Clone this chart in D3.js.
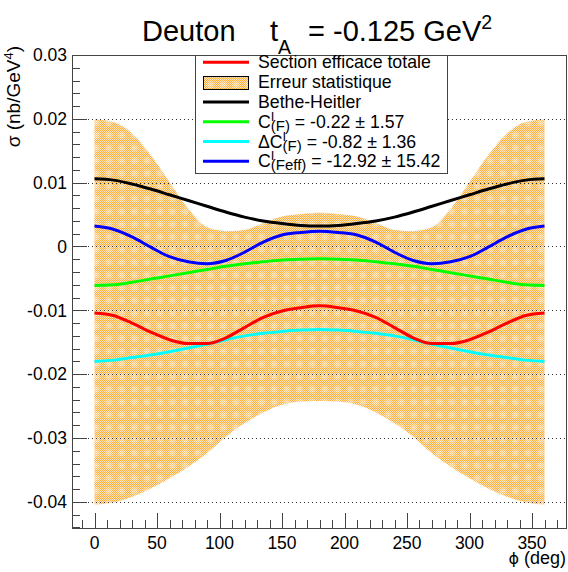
<!DOCTYPE html>
<html><head><meta charset="utf-8">
<script src="https://cdn.jsdelivr.net/npm/d3@7"></script>
<style>
body{margin:0;background:#fff}
svg{display:block;font-family:"Liberation Sans",Arial,sans-serif}
text{white-space:pre}
</style>
</head><body>
<svg id="c" width="568" height="572"></svg>
<script>
// ---- data ----
const phi = [0,15,30,45,60,75,90,105,120,135,150,165,180,195,210,225,240,255,270,285,300,315,330,345,360];
const bandHi = [0.0199,0.0195,0.0177,0.0143,0.0101,0.0059,0.0030,0.0024,0.0026,0.0037,0.0047,0.0051,0.0053,0.0051,0.0047,0.0037,0.0026,0.0024,0.0030,0.0059,0.0101,0.0143,0.0177,0.0195,0.0199];
const bandLo = [-0.0404,-0.0401,-0.0392,-0.0379,-0.0363,-0.0345,-0.0324,-0.0298,-0.0277,-0.0260,-0.0248,-0.0243,-0.0242,-0.0243,-0.0248,-0.0260,-0.0277,-0.0298,-0.0324,-0.0345,-0.0363,-0.0379,-0.0392,-0.0401,-0.0404];
const sigTot = [-0.0104,-0.0108,-0.0120,-0.0134,-0.0146,-0.0152,-0.0152,-0.0143,-0.0127,-0.0111,-0.0101,-0.0096,-0.0093,-0.0096,-0.0101,-0.0111,-0.0127,-0.0143,-0.0152,-0.0152,-0.0146,-0.0134,-0.0120,-0.0108,-0.0104];
const bh = [0.0106,0.0104,0.0098,0.0090,0.0081,0.0072,0.0063,0.0054,0.0046,0.0040,0.0036,0.0033,0.0032,0.0033,0.0036,0.0040,0.0046,0.0054,0.0063,0.0072,0.0081,0.0090,0.0098,0.0104,0.0106];
const cF = [-0.0061,-0.0060,-0.0056,-0.0051,-0.0046,-0.0041,-0.0036,-0.0031,-0.0027,-0.0024,-0.0021,-0.0020,-0.0019,-0.0020,-0.0021,-0.0024,-0.0027,-0.0031,-0.0036,-0.0041,-0.0046,-0.0051,-0.0056,-0.0060,-0.0061];
const dcF = [-0.0180,-0.0178,-0.0174,-0.0170,-0.0165,-0.0159,-0.0153,-0.0146,-0.0140,-0.0136,-0.0133,-0.0131,-0.0130,-0.0131,-0.0133,-0.0136,-0.0140,-0.0146,-0.0153,-0.0159,-0.0165,-0.0170,-0.0174,-0.0178,-0.0180];
const cFeff = [0.0032,0.0027,0.0015,-0.0001,-0.0016,-0.0024,-0.0027,-0.0022,-0.0009,0.0007,0.0018,0.0022,0.0024,0.0022,0.0018,0.0007,-0.0009,-0.0022,-0.0027,-0.0024,-0.0016,-0.0001,0.0015,0.0027,0.0032];
const xTicks = [0,50,100,150,200,250,300,350];
const yTicks = [-0.04,-0.03,-0.02,-0.01,0,0.01,0.02,0.03];
const yTickLabels = ["-0.04","-0.03","-0.02","-0.01","0","0.01","0.02","0.03"];

const F = {l:72, t:55, r:567, b:528};
const svg = d3.select("#c");
const x = d3.scaleLinear().domain([-18,378]).range([F.l,F.r]);
const y = d3.scaleLinear().domain([-0.0441,0.0300]).range([F.b,F.t]);

// ---- patterns (no nesting) ----
const defs = svg.append("defs");
const chk = defs.append("pattern").attr("id","chk").attr("width",2).attr("height",2).attr("patternUnits","userSpaceOnUse");
chk.append("rect").attr("width",2).attr("height",2).attr("fill","#ffe6c2");
chk.append("rect").attr("x",0).attr("y",0).attr("width",1).attr("height",1).attr("fill","#ffac36");
chk.append("rect").attr("x",1).attr("y",1).attr("width",1).attr("height",1).attr("fill","#ffac36");
const rg = defs.append("radialGradient").attr("id","rg");
rg.append("stop").attr("offset","0").attr("stop-color","#ffeed6").attr("stop-opacity",0.6);
rg.append("stop").attr("offset","0.6").attr("stop-color","#ffeed6").attr("stop-opacity",0.35);
rg.append("stop").attr("offset","1").attr("stop-color","#ffeed6").attr("stop-opacity",0);
const sp = defs.append("pattern").attr("id","spots").attr("width",12.7).attr("height",12.7).attr("patternUnits","userSpaceOnUse").attr("x",1).attr("y",2);
sp.append("circle").attr("cx",6.35).attr("cy",6.35).attr("r",4.6).attr("fill","url(#rg)");

// ---- band ----
const bandData = phi.map((p,i)=>({p, lo:bandLo[i], hi:bandHi[i]}));
const bandArea = d3.area().x(d=>x(d.p)).y0(d=>y(d.lo)).y1(d=>y(d.hi)).curve(d3.curveMonotoneX);
svg.append("path").datum(bandData).attr("d", bandArea).attr("fill","url(#chk)");
svg.append("path").datum(bandData).attr("d", bandArea).attr("fill","url(#spots)");

// ---- grid ----
svg.append("g").selectAll("line").data(yTicks.filter(v=>v<0.029)).join("line")
  .attr("x1",F.l).attr("x2",F.r).attr("y1",d=>Math.round(y(d))+0.5).attr("y2",d=>Math.round(y(d))+0.5)
  .attr("stroke","#333").attr("stroke-width",1).attr("stroke-dasharray","1,3");

// ---- curves ----
const line = d3.line().x(d=>x(d.p)).y(d=>y(d.v)).curve(d3.curveMonotoneX);
const series = [
  {vals:dcF, color:"#00ffff"},
  {vals:cF, color:"#00ff00"},
  {vals:sigTot, color:"#ff0000"},
  {vals:cFeff, color:"#0000ff"},
  {vals:bh, color:"#000000"}
];
series.forEach(s=>{
  svg.append("path").datum(phi.map((p,i)=>({p, v:s.vals[i]})))
    .attr("d", line).attr("fill","none").attr("stroke",s.color).attr("stroke-width",3);
});

// ---- frame & ticks ----
svg.append("rect").attr("x",F.l+0.5).attr("y",F.t+0.5).attr("width",F.r-F.l-1).attr("height",F.b-F.t)
  .attr("fill","none").attr("stroke","#444").attr("stroke-width",1);
const tg = svg.append("g").attr("stroke","#444").attr("stroke-width",1);
d3.range(-10,371,10).forEach(v=>{
  const major = v%50===0;
  const xx = Math.round(x(v))+0.5;
  tg.append("line").attr("x1",xx).attr("x2",xx).attr("y1",F.b).attr("y2",F.b-(major?15:8));
});
d3.range(-44,31,2).forEach(k=>{
  const v = k/1000;
  const major = k%10===0;
  const yy = Math.round(y(v))+0.5;
  tg.append("line").attr("x1",F.l).attr("x2",F.l+(major?15:8)).attr("y1",yy).attr("y2",yy);
});
svg.append("g").selectAll("text").data(xTicks).join("text")
  .attr("x",d=>x(d)).attr("y",549).attr("text-anchor","middle").attr("font-size",17.5).attr("fill","#000").text(d=>d);
svg.append("g").selectAll("text").data(yTicks).join("text")
  .attr("x",67).attr("y",d=>y(d)+6.3).attr("text-anchor","end").attr("font-size",17.5).attr("fill","#000")
  .text((d,i)=>yTickLabels[i]);

// axis titles
const xt = svg.append("text").attr("x",566).attr("y",564).attr("text-anchor","end").attr("font-size",18);
xt.append("tspan").attr("font-family","DejaVu Sans").attr("font-size",16).text("ϕ");
xt.append("tspan").text(" (deg)");
const yt = svg.append("text").attr("transform","translate(20,46) rotate(-90)").attr("text-anchor","end").attr("font-size",19);
yt.append("tspan").text("σ (nb/GeV");
yt.append("tspan").attr("font-size",13).attr("dy",-7).text("4");
yt.append("tspan").attr("dy",7).text(")");

// ---- rich text (single text element per row) ----
function measure(t, fsz){
  const tmp = svg.append("text").attr("font-size",fsz).text(t);
  const w = tmp.node().getComputedTextLength();
  tmp.remove();
  return w;
}
function legendRow(g, x0, yb, pre, sub, rest, fsz){
  const t = g.append("text").attr("x",x0).attr("y",yb).attr("font-size",fsz).attr("fill","#000");
  t.append("tspan").text(pre);
  t.append("tspan").attr("font-size",13).attr("dy",-7).text("I");
  const wI = measure("I",13);
  t.append("tspan").attr("font-size",15).attr("dx",-wI).attr("dy",10).text(sub);
  t.append("tspan").attr("dy",-3).text(rest);
}

// ---- legend ----
const lg = svg.append("g");
lg.append("rect").attr("x",195.5).attr("y",55.5).attr("width",252).attr("height",118)
  .attr("fill","#fff").attr("stroke","#444").attr("stroke-width",1);
const rowsY = [68.3,88.1,107.9,127.7,147.5,167.3];
const fs = 17.7;
const lx1 = 203, lx2 = 249, tx = 258;
const sample = (i,c)=>lg.append("line").attr("x1",lx1).attr("x2",lx2).attr("y1",rowsY[i]-6).attr("y2",rowsY[i]-6).attr("stroke",c).attr("stroke-width",3);
sample(0,"#ff0000");
lg.append("text").attr("x",tx).attr("y",rowsY[0]).attr("font-size",fs).text("Section efficace totale");
lg.append("rect").attr("x",203.5).attr("y",76.5).attr("width",45).attr("height",13).attr("fill","url(#chk)");
lg.append("rect").attr("x",203.5).attr("y",76.5).attr("width",45).attr("height",13).attr("fill","url(#spots)").attr("stroke","#000").attr("stroke-width",1);
lg.append("text").attr("x",tx).attr("y",rowsY[1]).attr("font-size",fs).text("Erreur statistique");
sample(2,"#000000");
lg.append("text").attr("x",tx).attr("y",rowsY[2]).attr("font-size",fs).text("Bethe-Heitler");
sample(3,"#00ff00");
legendRow(lg, tx, rowsY[3], "C", "(F)", " = -0.22 ± 1.57", fs);
sample(4,"#00ffff");
legendRow(lg, tx, rowsY[4], "ΔC", "(F)", " = -0.82 ± 1.36", fs);
sample(5,"#0000ff");
legendRow(lg, tx, rowsY[5], "C", "(Feff)", " = -12.92 ± 15.42", fs);

// ---- title ----
const tt = svg.append("text").attr("x",142).attr("y",41).attr("font-size",29);
tt.append("tspan").text("Deuton");
tt.append("tspan").attr("x",270).text("t");
tt.append("tspan").attr("font-size",19.5).attr("dy",13).text("A");
tt.append("tspan").attr("x",308).attr("dy",-13).text("= -0.125 GeV");
tt.append("tspan").attr("font-size",19.5).attr("dy",-12).text("2");
</script>
</body></html>
